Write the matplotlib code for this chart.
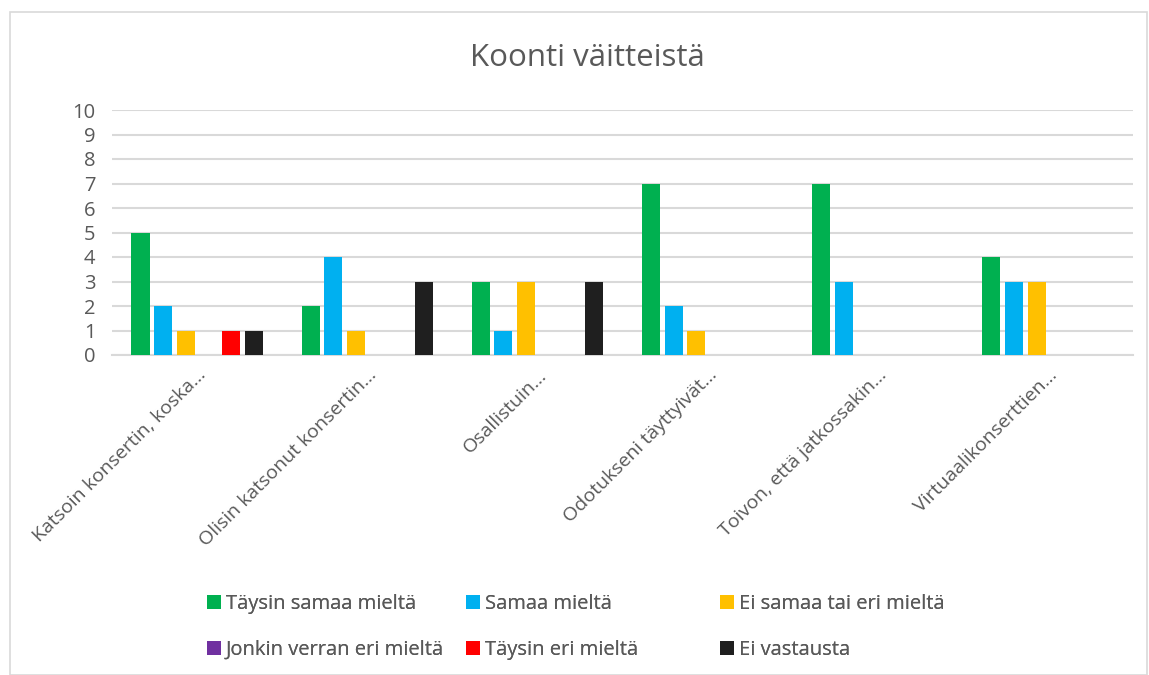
import numpy as np
import matplotlib
matplotlib.use("Agg")
import matplotlib.pyplot as plt
from matplotlib.patches import Rectangle

# ── data ─────────────────────────────────────────────
categories = [
    "Katsoin konsertin, koska…",
    "Olisin katsonut konsertin…",
    "Osallistuin…",
    "Odotukseni täyttyivät…",
    "Toivon, että jatkossakin…",
    "Virtuaalikonserttien…",
]
series_names = [
    "Täysin samaa mieltä",
    "Samaa mieltä",
    "Ei samaa tai eri mieltä",
    "Jonkin verran eri mieltä",
    "Täysin eri mieltä",
    "Ei vastausta",
]
taysin_samaa = [5, 2, 3, 7, 7, 4]
samaa = [2, 4, 1, 2, 3, 3]
ei_samaa_tai_eri = [1, 1, 3, 1, 0, 3]
jonkin_verran_eri = [0, 0, 0, 0, 0, 0]
taysin_eri = [1, 0, 0, 0, 0, 0]
ei_vastausta = [1, 3, 3, 0, 0, 0]
y_ticks = list(range(0, 11))

series_values = [taysin_samaa, samaa, ei_samaa_tai_eri,
                 jonkin_verran_eri, taysin_eri, ei_vastausta]
colors = ["#00B050", "#00B0F0", "#FFC000", "#7030A0", "#FF0000", "#1F1F1F"]

TEXT = "#595959"
GRID = "#D9D9D9"
plt.rcParams["font.family"] = ["Open Sans", "DejaVu Sans"]

W, H = 1149, 675
fig = plt.figure(figsize=(W / 100, H / 100), dpi=100)
fig.patches.append(Rectangle((10 / W, 0), 1 - 12 / W, 1 - 12 / H,
                             transform=fig.transFigure, fill=False,
                             edgecolor="#D9D9D9", linewidth=1.2))

ax = fig.add_axes([112 / W, 1 - 355 / H, (1133 - 112) / W, (355 - 110) / H])

x = np.arange(len(categories))
pitch = 0.133
width = 0.106
offsets = (np.arange(len(series_values)) - (len(series_values) - 1) / 2) * pitch
for vals, off, col, name in zip(series_values, offsets, colors, series_names):
    ax.bar(x + off, vals, width=width, color=col, label=name, zorder=3)

ax.set_xlim(-0.5, len(categories) - 0.5)
ax.set_ylim(0, 10)
ax.set_yticks(y_ticks)
ax.yaxis.grid(True, color=GRID, linewidth=1.5, zorder=0)
ax.set_axisbelow(True)
for s in ["top", "right", "left"]:
    ax.spines[s].set_visible(False)
ax.spines["bottom"].set_color(GRID)
ax.spines["bottom"].set_linewidth(1.5)
ax.tick_params(axis="y", length=0, labelsize=14.5, labelcolor=TEXT, pad=12)
ax.tick_params(axis="x", length=0, labelsize=14, labelcolor=TEXT, pad=8)
ax.set_xticks(x)
ax.set_xticklabels(categories, rotation=45, ha="right", va="top",
                   rotation_mode="anchor")

fig.text(587 / W, 1 - 58 / H, "Koonti väitteistä", ha="center", va="center",
         fontsize=22.5, color=TEXT)

# legend: three fixed-width columns, filled row by row
handles, labels = ax.get_legend_handles_labels()
col_x = [207, 466, 720]
for c, cx in enumerate(col_x):
    leg = fig.legend([handles[c], handles[c + 3]], [labels[c], labels[c + 3]],
                     loc="upper left", bbox_to_anchor=(cx / W, 1 - 594 / H),
                     frameon=False, fontsize=14.5, labelcolor=TEXT,
                     handlelength=0.68, handleheight=0.68, handletextpad=0.25,
                     labelspacing=1.3, borderpad=0, borderaxespad=0)
    fig.add_artist(leg)

fig.savefig("out.png", dpi=100)
